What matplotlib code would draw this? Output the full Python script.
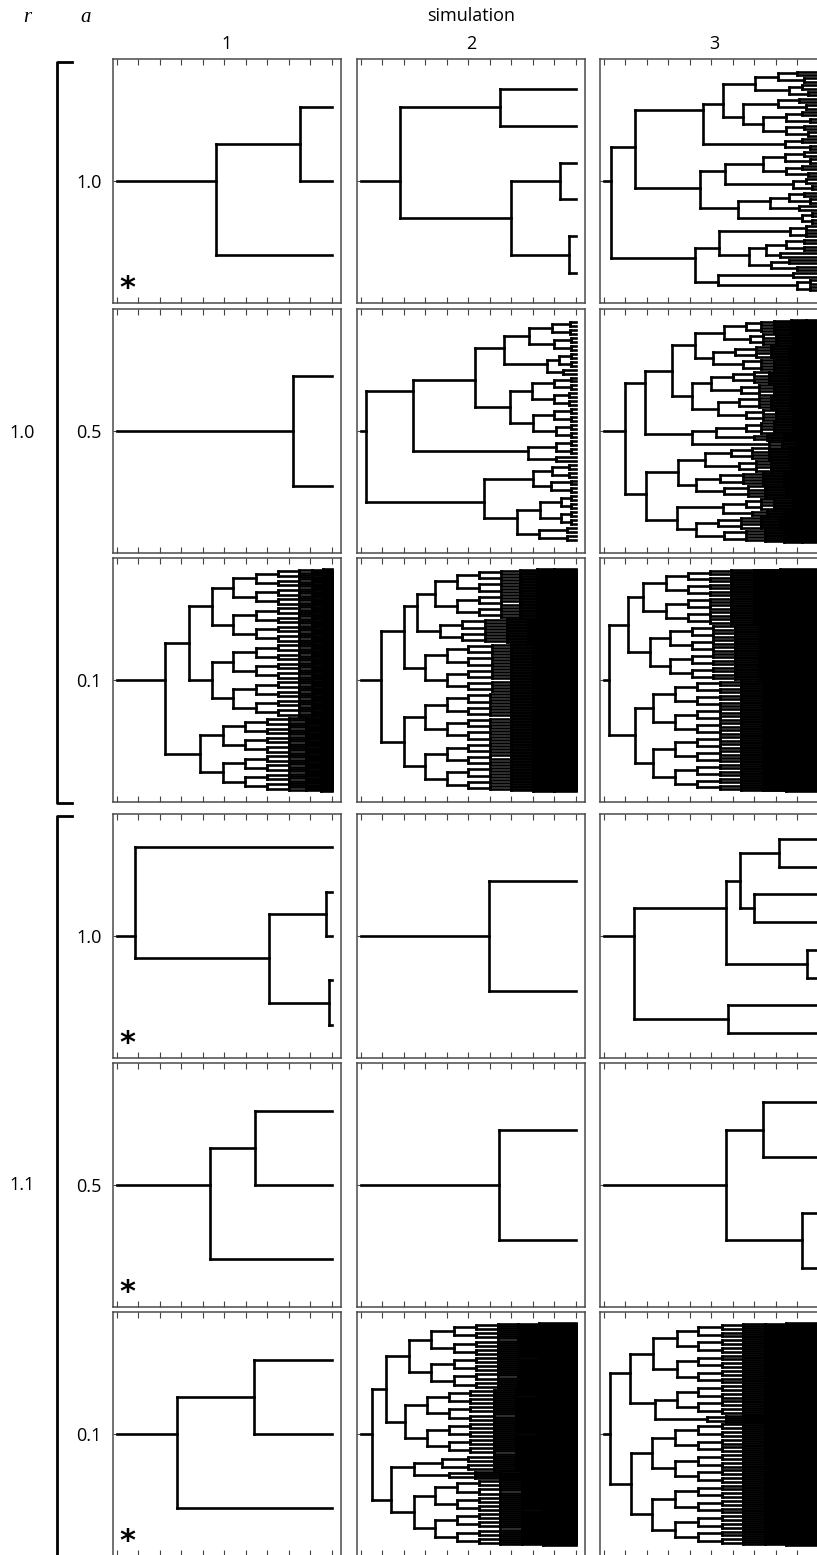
import matplotlib
matplotlib.use("Agg")
import matplotlib.pyplot as plt
from matplotlib.collections import LineCollection
from matplotlib.lines import Line2D

W, H = 817, 1555          # figure size in px (dpi 100)
T_END = 10.0              # every surviving lineage runs on to t = 10
L = None                  # a leaf
# a list [t1, t2, ...] is a clade that splits evenly at t1, then t2, ...
# a tuple (t, a, b) is a node at time t with children a and b

# ---------- r = 1.0 ----------
tree_r10_a10_1 = (4.62, (8.53, L, L), L)
tree_r10_a10_2 = (1.85, (6.48, L, L), (7.0, (9.26, L, L), (9.69, L, L)))
tree_r10_a10_3 = (0.34,
    (1.47,
        (4.64,
            (5.56,
                (7.03, (8.1, [9.0], [9.3]), (8.6, [9.2], [9.5])),
                (6.46, (8.1, [9.1], [9.4]), (7.4, (8.5, [9.2], [9.6]), (8.5, [9.3], [9.5])))),
            (8.42, [9.2], [9.6])),
        (4.5,
            (5.64, (7.42, (8.42, [9.3], [9.6]), (8.5, [9.2], [9.5])), (8.8, [9.4], [9.7])),
            (6.26, (7.73, (8.6, [9.3], [9.6]), [9.1]), [9.2, 9.7]))),
    (4.25,
        (5.36, [8.66, 9.4], (6.75, (7.55, [8.5, 9.3], [8.2]), (7.8, [8.6], [9.0]))),
        (5.3, [8.8], [9.0, 9.6])))

tree_r10_a05_1 = (8.2, L, L)
tree_r10_a05_2 = (0.23,
    (2.44,
        (5.32,
            (6.67, (7.84, [8.9, 9.75], [9.0, 9.8]), (8.67, [9.2, 9.8], [9.4])),
            (6.94, (7.95, [9.0, 9.8], [9.0, 9.7]), (8.0, [9.0, 9.8], [9.1, 9.8]))),
        (7.79, [9.1, 9.8], [9.1])),
    (5.74,
        (8.0, [8.9, 9.7], [8.85, 9.8]),
        (7.25, [8.35, 9.3, 9.8], [8.3, 9.6])))
tree_r10_a05_3 = (1.0,
    (1.9,
        (3.2,
            (4.25, (5.6, [6.6, 7.3, 7.9, 8.7, 9.4], [6.8, 7.4, 8.0, 8.8, 9.5]),
                   (5.1, [6.1, 7.1, 7.8, 8.6, 9.3], [6.5, 7.3, 7.9, 8.7, 9.5])),
            (4.1, (5.0, [6.0, 7.0, 7.7, 8.6, 9.3], [6.4, 7.2, 7.9, 8.7, 9.5]),
                  (5.3, [6.3, 7.2, 7.8, 8.7, 9.4], [6.6, 7.4, 8.0, 8.8, 9.6]))),
        (4.1, (5.2, [6.6, 7.3, 7.9, 8.8, 9.5], [7.0, 7.6, 8.4, 9.2]), [7.7, 8.3, 9.0, 9.6])),
    (1.98,
        (3.47, (4.7, [5.9, 6.9, 7.7, 8.6, 9.3], [6.3, 7.1, 7.8, 8.7, 9.4]),
               (4.3, [5.4, 6.5, 7.4, 8.4, 9.2], [5.6, 6.7, 7.5, 8.5, 9.3])),
        (3.4, (5.55, [6.6, 7.3, 7.9, 8.8, 9.5], [6.9, 7.6, 8.4, 9.2]),
              (4.3, [5.3, 6.4, 7.3, 8.2, 9.0], [5.6, 6.6, 7.5, 8.4, 9.2]))))

tree_r10_a01_1 = (2.25, [3.38, 4.42, 5.42, 6.5, 7.5, 8.5, 9.1, 9.6],
                        [3.87, 4.96, 5.97, 6.98, 8.0, 8.8, 9.5])
tree_r10_a01_2 = (0.93,
    (2.0,
        (2.62, [3.44, 4.48, 5.48, 6.53, 7.4, 8.2, 9.0], [3.7, 4.7, 5.8, 6.8, 7.8, 8.8]),
        [3.0, 4.0, 5.0, 6.1, 7.0, 8.0, 9.0]),
    (2.0, [3.0, 4.0, 5.0, 6.0, 7.0, 8.0, 9.0], [3.0, 4.0, 5.0, 6.0, 7.0, 8.0, 9.0]))
tree_r10_a01_3 = (0.27,
    (1.13, [1.82, 2.9, 3.94, 4.94, 5.94, 7.0, 8.2], [2.16, 3.1, 4.1, 5.1, 6.1, 7.2, 8.4]),
    (1.47, [2.31, 3.3, 4.35, 5.4, 6.4, 7.4, 8.5], [2.31, 3.3, 4.35, 5.4, 6.4, 7.4, 8.5]))

# ---------- r = 1.1 ----------
tree_r11_a10_1 = (0.83, L, (7.07, (9.74, L, L), (9.86, L, L)))
tree_r11_a10_2 = (5.99, L, L)
tree_r11_a10_3 = (1.41, (5.71, (6.36, (8.13, L, L), (7.01, L, L)), (9.45, L, L)), (5.8, L, L))

tree_r11_a05_1 = (4.33, (6.41, L, L), L)
tree_r11_a05_2 = (6.44, L, L)
tree_r11_a05_3 = (5.71, (7.4, L, L), (9.21, L, L))

tree_r11_a01_1 = (2.79, (6.39, L, L), L)
tree_r11_a01_2 = (0.51,
    (1.19, [2.24, 3.29, 4.32, 5.36, 6.37, 7.3, 8.3], [2.08, 3.09, 4.1, 5.1, 6.2, 7.2, 8.2]),
    (1.39, (2.47, [3.78, 5.0, 6.2, 7.2, 8.3], [4.1, 5.3, 6.5, 7.5]),
           [2.47, 3.44, 4.48, 5.52, 6.5, 7.5, 8.5]))
tree_r11_a01_3 = (0.31,
    (1.24, [2.31, 3.4, 4.4, 5.48, 6.48, 7.5, 8.5],
           (2.39, [3.4, 4.4, 5.48, 6.48, 7.5, 8.5], [4.8, 5.7, 6.5, 7.3])),
    (1.28, [2.24, 3.3, 4.4, 5.48, 6.48, 7.5, 8.5], [2.24, 3.3, 4.4, 5.48, 6.48, 7.5, 8.5]))

trees = [
    [tree_r10_a10_1, tree_r10_a10_2, tree_r10_a10_3],
    [tree_r10_a05_1, tree_r10_a05_2, tree_r10_a05_3],
    [tree_r10_a01_1, tree_r10_a01_2, tree_r10_a01_3],
    [tree_r11_a10_1, tree_r11_a10_2, tree_r11_a10_3],
    [tree_r11_a05_1, tree_r11_a05_2, tree_r11_a05_3],
    [tree_r11_a01_1, tree_r11_a01_2, tree_r11_a01_3],
]
a_labels = ["1.0", "0.5", "0.1", "1.0", "0.5", "0.1"]
r_labels = ["1.0", "1.1"]
sim_labels = ["1", "2", "3"]
starred = [(0, 0), (3, 0), (4, 0), (5, 0)]

# panel placement (px)
col_left = [113, 357, 600]
row_top = [59, 309, 558, 814, 1063, 1312]
pw, ph = 228, 244

SANS = "Open Sans"
SERIF = "Liberation Serif"


def fx(px):
    return px / W


def fy(py):
    return 1 - py / H


def walk(node, t_from, state, segs):
    # returns mean tip position and tip count of the clade
    if isinstance(node, list):
        node = (node[0], node[1:], node[1:]) if node else None
    if node is None:
        state[0] += 1
        y = state[0]
        segs.append([(t_from, y), (T_END, y)])
        return y, 1
    t, *kids = node
    ys, ns = [], []
    for k in kids:
        yk, nk = walk(k, t, state, segs)
        ys.append(yk)
        ns.append(nk)
    n = sum(ns)
    y = sum(a * b for a, b in zip(ys, ns)) / n
    segs.append([(t, min(ys)), (t, max(ys))])
    segs.append([(t_from, y), (t, y)])
    return y, n


fig = plt.figure(figsize=(W / 100, H / 100), dpi=100)

for i, row in enumerate(trees):
    for j, tree in enumerate(row):
        ax = fig.add_axes([fx(col_left[j]), fy(row_top[i] + ph), pw / W, ph / H])
        segs = []
        y0, n = walk(tree, 0.0, [0], segs)
        ax.add_collection(LineCollection(segs, colors="black", linewidths=1.9,
                                         capstyle="projecting"))
        ax.set_xlim(-0.17, 10.43)
        ax.set_ylim(n + 0.5 + 0.05 * n, 0.5 - 0.05 * n)
        ax.set_xticks(range(11))
        ax.set_xticklabels([])
        ax.set_yticks([(n + 1) / 2])
        ax.set_yticklabels([a_labels[i]] if j == 0 else [""])
        ax.tick_params(axis="x", direction="in", length=4, width=0.8,
                       color="#444444", top=True, bottom=True)
        ax.tick_params(axis="y", direction="in", length=4, width=0.8,
                       color="#444444", pad=8, labelsize=13)
        for lab in ax.get_yticklabels():
            lab.set_fontfamily(SANS)
        for s in ax.spines.values():
            s.set_color("#4a4a4a")
            s.set_linewidth(1.1)
        if (i, j) in starred:
            ax.text(0.066, 0.068, r"$\mathbf{*}$", transform=ax.transAxes,
                    ha="center", va="center", fontsize=22)

# column headers
fig.text(fx(471), fy(16), "simulation", ha="center", va="center",
         fontsize=13, family=SANS)
for j, lab in enumerate(sim_labels):
    fig.text(fx(col_left[j] + pw / 2), fy(44), lab, ha="center", va="center",
             fontsize=13, family=SANS)
fig.text(fx(27), fy(18), "r", ha="center", va="center", fontsize=15,
         style="italic", family=SERIF)
fig.text(fx(86), fy(18), "a", ha="center", va="center", fontsize=15,
         style="italic", family=SERIF)

# r brackets
fig.add_artist(Line2D([fx(72), fx(57), fx(57), fx(72)],
                      [fy(62), fy(62), fy(803), fy(803)], color="black", lw=2))
fig.add_artist(Line2D([fx(72), fx(57), fx(57)],
                      [fy(816), fy(816), fy(1600)], color="black", lw=2))
fig.text(fx(22), fy(433), r_labels[0], ha="center", va="center",
         fontsize=13, family=SANS)
fig.text(fx(22), fy(1185), r_labels[1], ha="center", va="center",
         fontsize=13, family=SANS)

fig.savefig("out.png", dpi=100)
